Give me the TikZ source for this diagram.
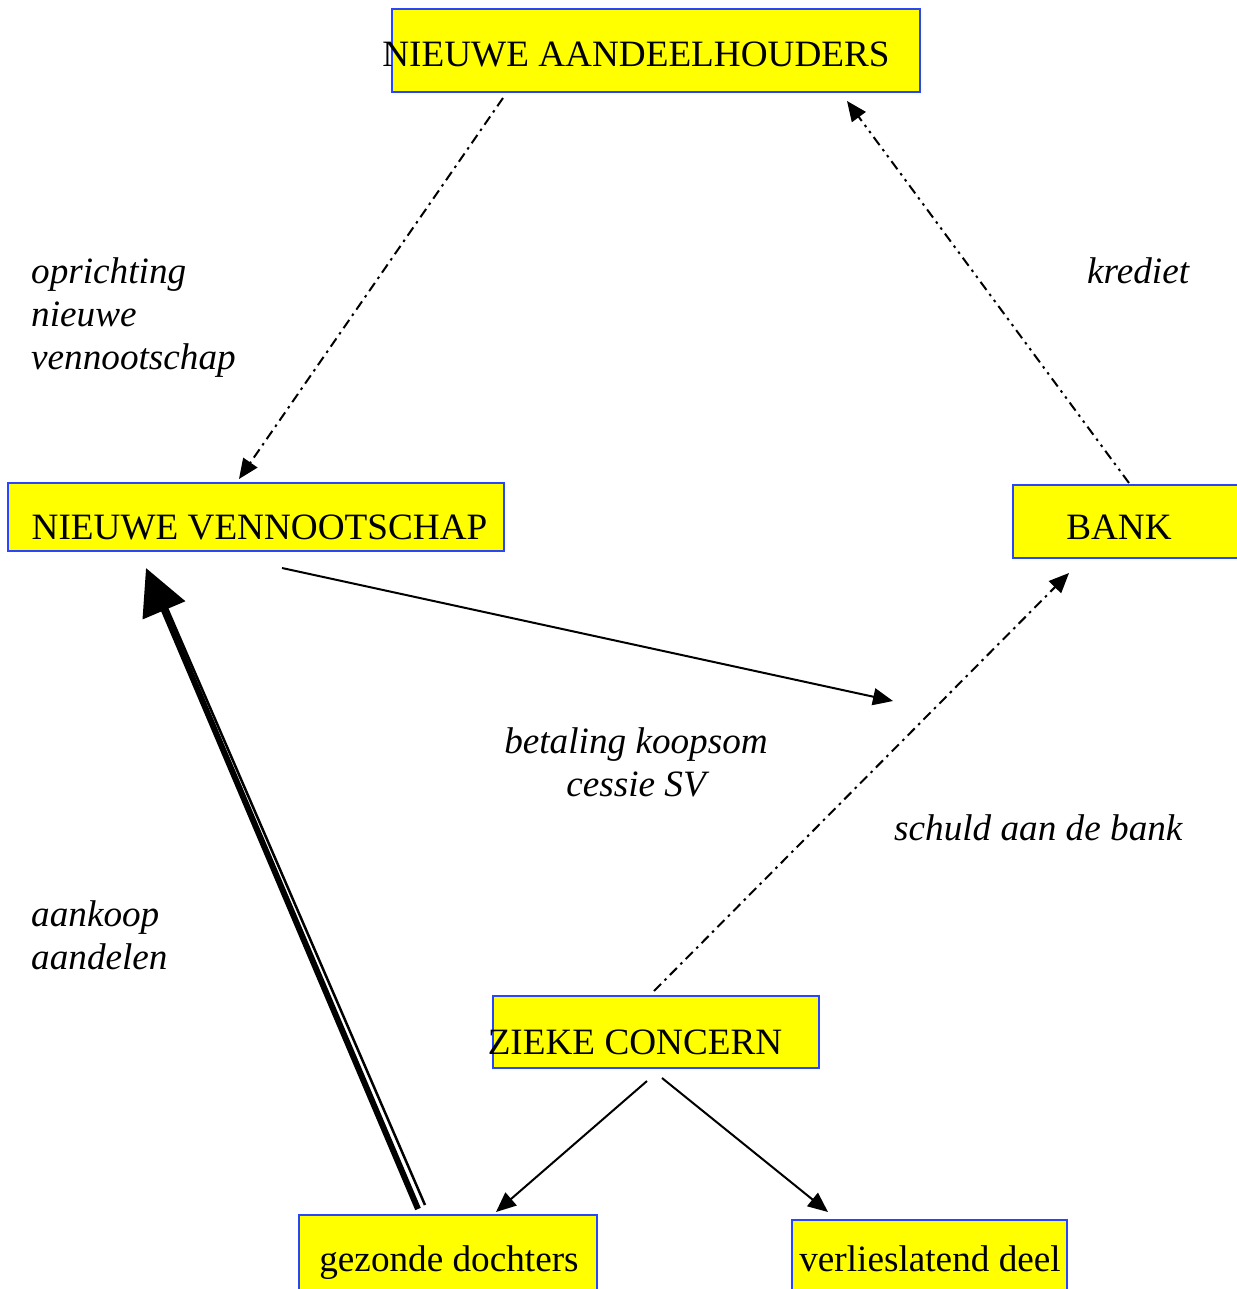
\documentclass[tikz,border=0pt]{standalone}
\usepackage{fontspec}
\setmainfont{Liberation Serif}
\usetikzlibrary{calc,arrows.meta}
\definecolor{boxfill}{RGB}{255,255,0}
\definecolor{boxline}{RGB}{40,70,255}
\begin{document}
\begin{tikzpicture}[x=1pt,y=-1pt,
  box/.style={draw=boxline, fill=boxfill, line width=2, inner sep=0, rectangle},
  txt/.style={inner sep=0, anchor=base, font=\fontsize{37.2}{43}\selectfont},
  lab/.style={inner sep=0, font=\fontsize{37.2}{43}\selectfont\itshape},
  tip/.style={-{Triangle[length=20,width=17]}},
  dashdot/.style={line width=2, dash pattern=on 10 off 5 on 2.5 off 5},
  dashdotdot/.style={line width=2, dash pattern=on 10 off 5 on 2.5 off 5 on 2.5 off 5},
  solidarrow/.style={line width=2, tip}]
\path[use as bounding box] (0,0) rectangle (1236,1289);
\fill[white] (0,0) rectangle (1236,1289);
% boxes
\node[box, minimum width=528, minimum height=83] (na) at (656,50.5) {};
\node[box, minimum width=496, minimum height=68] (nv) at (256,517) {};
\node[box, minimum width=228, minimum height=73] (bank) at (1127,521.5) {};
\node[box, minimum width=326, minimum height=72] (zc) at (656,1032) {};
\node[box, minimum width=298, minimum height=80] (gd) at (448,1255) {};
\node[box, minimum width=275, minimum height=75] (vd) at (929.5,1257.5) {};
% box texts
\node[txt] (natext) at (636,67) {NIEUWE AANDEELHOUDERS};
\node[txt] (nvtext) at (259.5,539) {NIEUWE VENNOOTSCHAP};
\node[txt] (banktext) at (1119,539) {BANK};
\node[txt] (zctext) at (635,1054) {ZIEKE CONCERN};
\node[txt] (gdtext) at (449,1271) {gezonde dochters};
\node[txt] (vdtext) at (930,1271) {verlieslatend deel};
% labels
\node[lab, anchor=base west] (l1a) at (31,283) {oprichting};
\node[lab, anchor=base west] (l1b) at (31,326) {nieuwe};
\node[lab, anchor=base west] (l1c) at (31,369) {vennootschap};
\node[lab, anchor=base west] (l2) at (1087,283) {krediet};
\node[lab, anchor=base] (l3a) at (636,753) {betaling koopsom};
\node[lab, anchor=base] (l3b) at (636,796) {cessie SV};
\node[lab, anchor=base west] (l4) at (894,840) {schuld aan de bank};
\node[lab, anchor=base west] (l5a) at (31,926) {aankoop};
\node[lab, anchor=base west] (l5b) at (31,969) {aandelen};
% connectors
\draw[dashdot, tip] ($(na.south west)+(112,5)$) -- ($(nv.north west)+(232,-3)$);
\draw[dashdotdot, tip] ($(bank.north west)+(117,-1)$) -- ($(na.south west)+(456,8)$);
\coordinate (payend) at (893,701);
\draw[solidarrow] ($(nv.south west)+(275,16)$) -- (payend);
\draw[dashdot, tip] ($(zc.north west)+(162,-4)$) -- ($(bank.south west)+(57,14)$);
\draw[solidarrow] ($(zc.south west)+(155,12)$) -- ($(gd.north west)+(198,-2)$);
\draw[solidarrow] ($(zc.south west)+(170,9)$) -- ($(vd.north west)+(37,-7)$);
% double thick arrow
\coordinate (dtip) at ($(nv.south west)+(139,16)$);
\draw[line width=6, -{Triangle[length=46,width=45]}] ($(gd.north west)+(120,-5)$) -- (dtip);
\draw[line width=2.5] ($(gd.north west)+(127,-9)$) -- ($(dtip)+(21,40)$);
\end{tikzpicture}
\end{document}
